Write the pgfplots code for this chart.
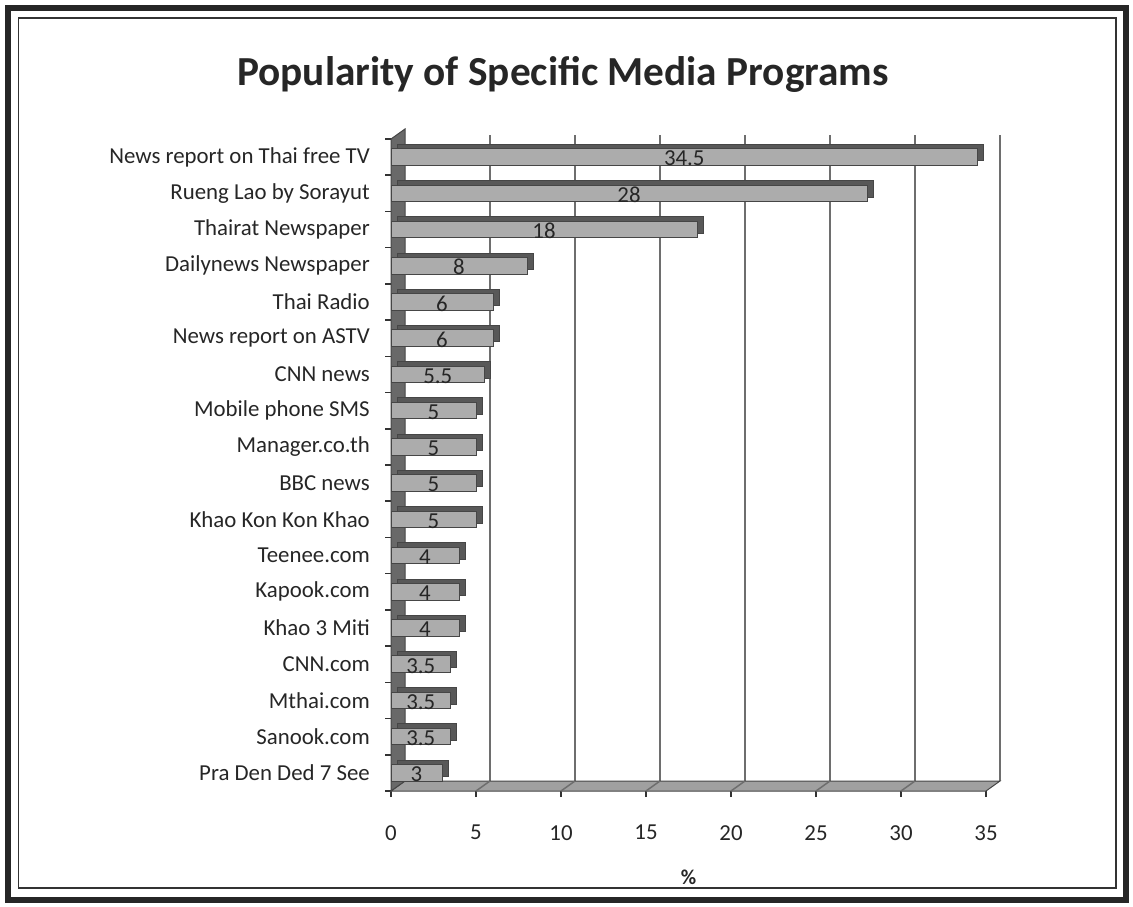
\documentclass[border=0pt]{standalone}
\usepackage{fontspec}
\setmainfont{Carlito}
\usepackage{pgfplots}
\usepackage{pgfplotstable}
\pgfplotsset{compat=1.18}
\definecolor{barface}{RGB}{172,172,172}
\definecolor{baredge}{RGB}{70,70,70}
\definecolor{bardark}{RGB}{88,88,88}
\definecolor{wallc}{RGB}{105,105,105}
\definecolor{floorc}{RGB}{160,160,160}
\definecolor{gridc}{RGB}{110,110,110}
\pgfplotstableread{
idx value
0 34.5
1 28
2 18
3 8
4 6
5 6
6 5.5
7 5
8 5
9 5
10 5
11 4
12 4
13 4
14 3.5
15 3.5
16 3.5
17 3
}\datatable
\begin{document}
\begin{tikzpicture}
\useasboundingbox (0,0) rectangle (22.66,18.14);
\draw[line width=0.12cm, black!85] (0.16,0.14) rectangle (22.52,17.98);
\draw[line width=0.04cm, black!80] (0.37,0.38) rectangle (22.31,17.78);
\node[font=\bfseries\fontsize{23.5}{28}\selectfont, text=black!85] at (11.26,16.66) {Popularity of Specific Media Programs};
\begin{axis}[
  at={(7.82cm,2.32cm)}, anchor=south west,
  scale only axis, width=11.9cm, height=13.04cm,
  xmin=0, xmax=35, ymin=-0.5, ymax=17.5, y dir=reverse,
  xtick={0,5,...,35}, ytick={0,...,17},
  yticklabels={News report on Thai free TV, Rueng Lao by Sorayut, Thairat Newspaper, Dailynews Newspaper, Thai Radio, News report on ASTV, CNN news, Mobile phone SMS, Manager.co.th, BBC news, Khao Kon Kon Khao, Teenee.com, Kapook.com, Khao 3 Miti, CNN.com, Mthai.com, Sanook.com, Pra Den Ded 7 See},
  minor ytick={-0.5,0.5,...,17.5},
  tick align=outside, major tick length=0.12cm, minor tick length=0.12cm,
  every major y tick/.style={draw=none},
  tick style={black!80, line width=0.03cm},
  axis line style={draw=none},
  ytick pos=left, xtick pos=bottom,
  /pgf/number format/assume math mode=true,
  tick label style={font=\fontsize{13}{15}\selectfont, text=black!85},
  xticklabel style={yshift=-0.44cm},
  yticklabel style={xshift=-0.18cm},
  xlabel={\%},
  xlabel style={font=\bfseries\fontsize{12}{14}\selectfont, text=black!85, at={(axis description cs:0.5,0)}, anchor=center, yshift=-1.72cm},
  clip=false,
]
\pgfplotsinvokeforeach{5,10,...,35}{
  \draw[gridc, line width=0.03cm] ([xshift=0.28cm,yshift=0.2cm]axis cs:#1,17.5) -- ([xshift=0.28cm,yshift=0.08cm]axis cs:#1,-0.5);
}
\fill[floorc, draw=baredge, line width=0.02cm] (axis cs:0,17.5) -- (axis cs:35,17.5) -- ([xshift=0.28cm,yshift=0.2cm]axis cs:35,17.5) -- ([xshift=0.28cm,yshift=0.2cm]axis cs:0,17.5) -- cycle;
\pgfplotsinvokeforeach{5,10,...,30}{
  \draw[gridc, line width=0.03cm] (axis cs:#1,17.5) -- ([xshift=0.28cm,yshift=0.2cm]axis cs:#1,17.5);
}
\fill[wallc, draw=baredge, line width=0.02cm] (axis cs:0,-0.5) -- (axis cs:0,17.5) -- ([xshift=0.28cm,yshift=0.2cm]axis cs:0,17.5) -- ([xshift=0.28cm,yshift=0.2cm]axis cs:0,-0.5) -- cycle;
\addplot[xbar, bar width=0.33cm, fill=bardark, draw=baredge, line width=0.02cm, xshift=0.12cm, yshift=0.09cm] table[x=value, y=idx] \datatable;
\addplot[xbar, bar width=0.33cm, fill=barface, draw=baredge, line width=0.02cm,
  nodes near coords,
  visualization depends on={rawx \as \rawx},
  every node near coord/.append style={anchor=center, xshift={-\rawx*0.17cm}, yshift=-0.03cm, font=\fontsize{13}{15}\selectfont, text=black!85},
  point meta=explicit symbolic] table[x=value, y=idx, meta=value] \datatable;
\end{axis}
\end{tikzpicture}
\end{document}
